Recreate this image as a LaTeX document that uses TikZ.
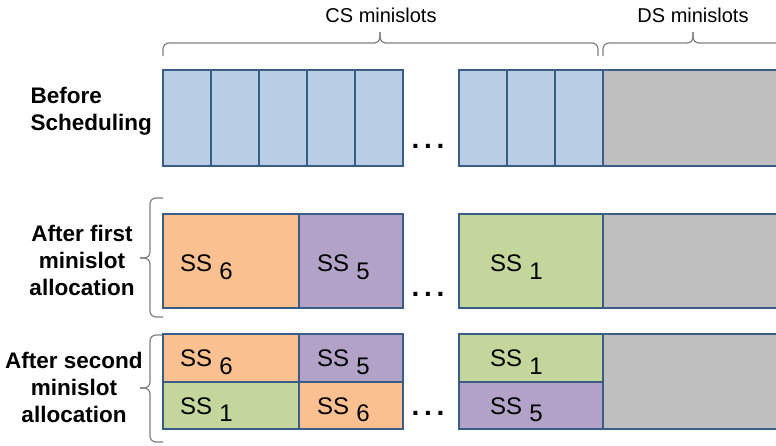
\documentclass[tikz,border=0pt]{standalone}
\usepackage{fontspec}
\setmainfont{Liberation Sans}
\definecolor{slotedge}{HTML}{3A5D88}
\definecolor{slotblue}{HTML}{B9CDE5}
\definecolor{slotgray}{HTML}{BFBFBF}
\definecolor{ssorange}{HTML}{FAC090}
\definecolor{sspurple}{HTML}{B3A2C7}
\definecolor{ssgreen}{HTML}{C3D69B}
\definecolor{bracegray}{HTML}{7F7F7F}
\newcommand{\ssname}[1]{SS\hspace{0.3em}\raisebox{-0.3em}{#1}}
\tikzset{
  cell/.style={draw=slotedge, line width=2.4pt, inner sep=0pt, anchor=north west},
  minislot/.style={cell, fill=slotblue, minimum width=48pt, minimum height=96pt},
  dsblock/.style={cell, fill=slotgray},
  sslabel/.style={anchor=west, inner sep=0pt, font=\fontsize{24}{26}\selectfont},
  bracepath/.style={draw=bracegray, line width=1.2pt, rounded corners=6pt},
  rowlabel/.style={font=\fontsize{22.5}{27}\selectfont\bfseries},
  heading/.style={font=\fontsize{20}{24}\selectfont},
  dots/.style={font=\fontsize{28}{30}\selectfont\bfseries, anchor=base}
}
\begin{document}
\begin{tikzpicture}[x=1pt, y=-1pt]
\useasboundingbox (0,0) rectangle (776,445);
\clip (0,0) rectangle (776,445);

% headings over the two groups of minislots
\node[heading] (cshead) at (381,15) {CS minislots};
\node[heading] (dshead) at (693,15) {DS minislots};

% braces under the headings
\draw[bracepath] (163,56) -- (163,43) -- (380,43) -- (380,32);
\draw[bracepath] (598,56) -- (598,43) -- (380,43) -- (380,32);
\draw[bracepath] (603,56) -- (603,43) -- (693,43) -- (693,32);
\draw[bracepath] (783,56) -- (783,43) -- (693,43) -- (693,32);

% row 1: before scheduling
\node[rowlabel, align=left, anchor=west] (lab1) at (27,111) {Before\\Scheduling};
\foreach \i/\x in {1/162,2/210,3/258,4/306,5/354,6/458,7/506,8/554}
  \node[minislot] (b\i) at (\x,69) {};
\node[dsblock, minimum width=200pt, minimum height=96pt] (bds) at (602,69) {};
\node[dots] (dots1) at (428,148) {.\,.\,.};

% row 2: after first minislot allocation
\node[rowlabel, align=center] (lab2) at (82,260) {After first\\minislot\\allocation};
\draw[bracepath] (163,198) -- (150,198) -- (150,258) -- (140,258);
\draw[bracepath] (163,317) -- (150,317) -- (150,258) -- (140,258);
\node[cell, fill=ssorange, minimum width=136pt, minimum height=94pt] (f1) at (162,213) {};
\node[cell, fill=sspurple, minimum width=104pt, minimum height=94pt] (f2) at (298,213) {};
\node[cell, fill=ssgreen, minimum width=144pt, minimum height=94pt] (f3) at (458,213) {};
\node[dsblock, minimum width=200pt, minimum height=94pt] (fds) at (602,213) {};
\node[sslabel] (f1t) at ([xshift=18pt, yshift=-6pt]f1.west) {\ssname{6}};
\node[sslabel] (f2t) at ([xshift=19pt, yshift=-6pt]f2.west) {\ssname{5}};
\node[sslabel] (f3t) at ([xshift=32pt, yshift=-6pt]f3.west) {\ssname{1}};
\node[dots] (dots2) at (428,296) {.\,.\,.};

% row 3: after second minislot allocation
\node[rowlabel, align=center] (lab3) at (74,387) {After second\\minislot\\allocation};
\draw[bracepath] (163,335) -- (150,335) -- (150,388) -- (140,388);
\draw[bracepath] (163,442) -- (150,442) -- (150,388) -- (140,388);
\node[cell, fill=ssorange, minimum width=136pt, minimum height=48pt] (s1) at (162,333) {};
\node[cell, fill=sspurple, minimum width=104pt, minimum height=48pt] (s2) at (298,333) {};
\node[cell, fill=ssgreen, minimum width=136pt, minimum height=47pt] (s3) at (162,381) {};
\node[cell, fill=ssorange, minimum width=104pt, minimum height=47pt] (s4) at (298,381) {};
\node[cell, fill=ssgreen, minimum width=144pt, minimum height=48pt] (s5) at (458,333) {};
\node[cell, fill=sspurple, minimum width=144pt, minimum height=47pt] (s6) at (458,381) {};
\node[dsblock, minimum width=200pt, minimum height=95pt] (sds) at (602,333) {};
\node[sslabel] (s1t) at ([xshift=18pt, yshift=-4pt]s1.west) {\ssname{6}};
\node[sslabel] (s2t) at ([xshift=19pt, yshift=-4pt]s2.west) {\ssname{5}};
\node[sslabel] (s3t) at ([xshift=18pt, yshift=-4pt]s3.west) {\ssname{1}};
\node[sslabel] (s4t) at ([xshift=19pt, yshift=-4pt]s4.west) {\ssname{6}};
\node[sslabel] (s5t) at ([xshift=32pt, yshift=-4pt]s5.west) {\ssname{1}};
\node[sslabel] (s6t) at ([xshift=32pt, yshift=-4pt]s6.west) {\ssname{5}};
\node[dots] (dots3) at (428,415) {.\,.\,.};
\end{tikzpicture}
\end{document}
